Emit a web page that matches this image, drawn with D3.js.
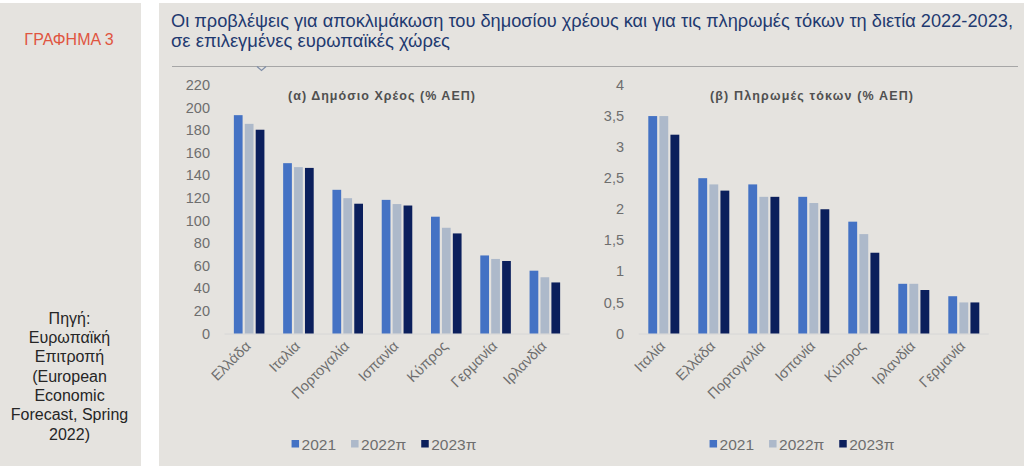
<!DOCTYPE html>
<html>
<head>
<meta charset="utf-8">
<script src="https://cdn.jsdelivr.net/npm/d3@7"></script>
<style>
html,body{margin:0;padding:0;background:#ffffff;}
svg{display:block;font-family:"Liberation Sans",Arial,sans-serif;}
</style>
</head>
<body>
<svg id="chart" width="1024" height="466"></svg>
<script>
// ---- data ----
const years = ["2021", "2022π", "2023π"];
const debtCountries = ["Ελλάδα", "Ιταλία", "Πορτογαλία", "Ισπανία", "Κύπρος", "Γερμανία", "Ιρλανδία"];
const debt2021 = [193.3, 150.8, 127.2, 118.3, 103.4, 69.1, 55.6];
const debt2022 = [185.6, 147.3, 119.8, 114.6, 93.6, 66.0, 49.8];
const debt2023 = [180.4, 146.6, 114.9, 113.3, 88.6, 64.2, 45.2];
const debtTicks = [0, 20, 40, 60, 80, 100, 120, 140, 160, 180, 200, 220];

const intCountries = ["Ιταλία", "Ελλάδα", "Πορτογαλία", "Ισπανία", "Κύπρος", "Ιρλανδία", "Γερμανία"];
const int2021 = [3.5, 2.5, 2.4, 2.2, 1.8, 0.8, 0.6];
const int2022 = [3.5, 2.4, 2.2, 2.1, 1.6, 0.8, 0.5];
const int2023 = [3.2, 2.3, 2.2, 2.0, 1.3, 0.7, 0.5];
const intTicks = [0, 0.5, 1, 1.5, 2, 2.5, 3, 3.5, 4];

const titleLines = ["Οι προβλέψεις για αποκλιμάκωση του δημοσίου χρέους και για τις πληρωμές τόκων τη διετία 2022-2023,",
                    "σε επιλεγμένες ευρωπαϊκές χώρες"];
const sideLabel = "ΓΡΑΦΗΜΑ 3";
const sourceLines = ["Πηγή:", "Ευρωπαϊκή", "Επιτροπή", "(European", "Economic", "Forecast, Spring", "2022)"];
const subtitleA = "(α) Δημόσιο Χρέος (% ΑΕΠ)";
const subtitleB = "(β) Πληρωμές τόκων (% ΑΕΠ)";

const colors = ["#4472C4", "#ADB9CA", "#0B1F5C"];
const bg = "#e5e3df";

const svg = d3.select("#chart");

// panels
svg.append("rect").attr("x", 0).attr("y", 3).attr("width", 141).attr("height", 463).attr("fill", bg);
svg.append("rect").attr("x", 159).attr("y", 3).attr("width", 865).attr("height", 463).attr("fill", bg);

// sidebar text
svg.append("text").attr("x", 69).attr("y", 45).attr("text-anchor", "middle")
  .attr("font-size", 16).attr("fill", "#e0553f").text(sideLabel);
svg.append("g").selectAll("text").data(sourceLines).join("text")
  .attr("x", 69.5).attr("y", (d, i) => 323.5 + i * 19.35)
  .attr("text-anchor", "middle").attr("font-size", 16).attr("fill", "#262626").text(d => d);

// title
svg.append("text").attr("x", 171).attr("y", 27).attr("font-size", 18).attr("fill", "#1f3a70")
  .attr("textLength", 842).attr("lengthAdjust", "spacingAndGlyphs").text(titleLines[0]);
svg.append("text").attr("x", 171).attr("y", 47).attr("font-size", 18).attr("fill", "#1f3a70")
  .attr("textLength", 279).attr("lengthAdjust", "spacingAndGlyphs").text(titleLines[1]);

// separator with chevron
svg.append("line").attr("x1", 172).attr("x2", 1018).attr("y1", 66.5).attr("y2", 66.5)
  .attr("stroke", "#a6a6a6").attr("stroke-width", 1);
svg.append("path").attr("d", "M257,66.5 L261.5,70.5 L266,66.5").attr("fill", "none")
  .attr("stroke", "#7f8ea8").attr("stroke-width", 1.2);

function drawChart(cfg) {
  const g = svg.append("g");
  const y = d3.scaleLinear().domain(cfg.domain).range([333.5, 85]);
  const x = d3.scaleBand().domain(cfg.countries).range(cfg.xRange).paddingInner(0.38).paddingOuter(0.19);
  const xs = d3.scaleBand().domain(years).range([0, x.bandwidth()]).paddingInner(0.2);

  // y tick labels
  g.append("g").selectAll("text").data(cfg.ticks).join("text")
    .attr("x", cfg.tickX).attr("y", d => y(d)).attr("dy", "0.35em")
    .attr("text-anchor", "end").attr("font-size", 14.5).attr("fill", "#6e6e6e")
    .text(d => cfg.fmt(d));

  // axis baseline
  g.append("line").attr("x1", cfg.xRange[0]).attr("x2", cfg.xRange[1])
    .attr("y1", y(0) + 0.5).attr("y2", y(0) + 0.5).attr("stroke", "#d6d6d6").attr("stroke-width", 1);

  // bars
  const series = cfg.series;
  const groups = g.append("g").selectAll("g").data(cfg.countries).join("g")
    .attr("transform", d => `translate(${x(d)},0)`);
  groups.selectAll("rect").data((c, ci) => years.map((yr, si) => ({ yr, v: series[si][ci], si })))
    .join("rect")
    .attr("x", d => xs(d.yr)).attr("width", xs.bandwidth())
    .attr("y", d => y(d.v)).attr("height", d => y(0) - y(d.v))
    .attr("fill", d => colors[d.si]);

  // category labels
  g.append("g").selectAll("text").data(cfg.countries).join("text")
    .attr("transform", d => `translate(${x(d) + x.bandwidth() / 2 + 2.5},347) rotate(-45)`)
    .attr("text-anchor", "end").attr("font-size", 14.5).attr("fill", "#6e6e6e").text(d => d);

  // subtitle
  g.append("text").attr("x", cfg.subX).attr("y", 100).attr("font-size", 12.5).attr("font-weight", "bold")
    .attr("fill", "#505050").attr("textLength", cfg.subW).attr("lengthAdjust", "spacing").text(cfg.subtitle);

  // legend
  const lg = g.append("g");
  const items = [];
  years.forEach((yr, i) => {
    const it = lg.append("g");
    it.append("rect").attr("x", 0).attr("y", 440).attr("width", 7.5).attr("height", 7.5).attr("fill", colors[i]);
    const t = it.append("text").attr("x", 10).attr("y", 450).attr("font-size", 15.5).attr("fill", "#6e6e6e").text(yr);
    const w = 10 + t.node().getComputedTextLength();
    items.push({ it, w });
  });
  const spacing = 15;
  const total = d3.sum(items, d => d.w) + spacing * (items.length - 1);
  let start = cfg.legendCenter - total / 2;
  items.forEach(d => { d.it.attr("transform", `translate(${start},0)`); start += d.w + spacing; });
}

drawChart({
  countries: debtCountries, series: [debt2021, debt2022, debt2023],
  domain: [0, 220], ticks: debtTicks, fmt: d => String(d), tickX: 210,
  xRange: [224.5, 569.5], subtitle: subtitleA, subX: 288, subW: 187, legendCenter: 384
});
drawChart({
  countries: intCountries, series: [int2021, int2022, int2023],
  domain: [0, 4], ticks: intTicks, fmt: d => String(d).replace(".", ","), tickX: 624,
  xRange: [638.8, 988.8], subtitle: subtitleB, subX: 710, subW: 203, legendCenter: 802
});
</script>
</body>
</html>
